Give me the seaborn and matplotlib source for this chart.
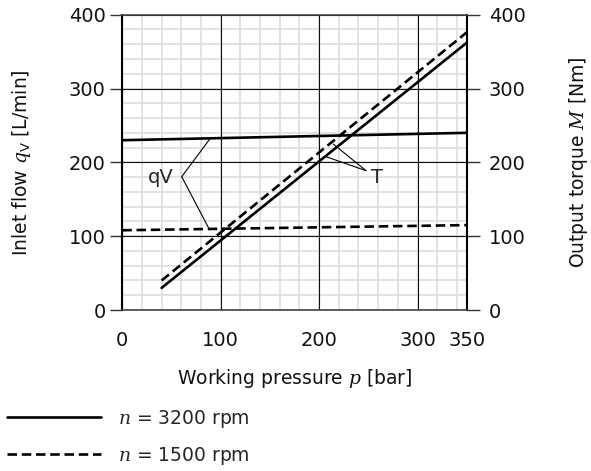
import numpy as np
import pandas as pd
import matplotlib
matplotlib.use('Agg')
import matplotlib.pyplot as plt
import seaborn as sns
from matplotlib.lines import Line2D
from matplotlib.ticker import MultipleLocator, FixedLocator, NullLocator

# ---- data ----
p_flow = [0, 350]
qv_3200 = [230, 240]
qv_1500 = [108, 115]
p_torque = [40, 350]
torque_3200 = [30, 362]
torque_1500 = [40, 376]
speeds = ['3200', '1500']
x_ticks = [0, 100, 200, 300, 350]
y_ticks = [0, 100, 200, 300, 400]
legend_labels = [r'$n$ = 3200 rpm', r'$n$ = 1500 rpm']

rows = []
for sp, q, t in [('3200', qv_3200, torque_3200), ('1500', qv_1500, torque_1500)]:
    for x, v in zip(p_flow, q):
        rows.append(dict(p=x, value=v, quantity='qV', speed=sp))
    for x, v in zip(p_torque, t):
        rows.append(dict(p=x, value=v, quantity='T', speed=sp))
df = pd.DataFrame(rows)
df['series'] = df['quantity'] + df['speed']

sns.set_style('white')
plt.rcParams['font.family'] = ['DejaVu Sans']
plt.rcParams['mathtext.fontset'] = 'dejavuserif'

LW = 1.9
DASH = (3.6, 1.8)
FS_TICK = 14
FS_LAB = 13.5
rect = [0.2069, 0.3418, 0.5828, 0.627]

fig = plt.figure(figsize=(5.91, 4.71), dpi=100)

# background axes: fine (minor) grid only
ax_bg = fig.add_axes(rect)
ax_bg.set_xlim(0, 350)
ax_bg.set_ylim(0, 400)
ax_bg.xaxis.set_major_locator(NullLocator())
ax_bg.yaxis.set_major_locator(NullLocator())
ax_bg.xaxis.set_minor_locator(MultipleLocator(20))
ax_bg.yaxis.set_minor_locator(MultipleLocator(20))
ax_bg.grid(which='minor', color='#dddddd', lw=1.2)
ax_bg.tick_params(which='both', length=0, labelbottom=False, labelleft=False)
for s in ax_bg.spines.values():
    s.set_visible(False)

# main axes
ax = fig.add_axes(rect)
ax.patch.set_visible(False)
sns.lineplot(data=df, x='p', y='value', units='series', estimator=None,
             style='speed', style_order=speeds,
             dashes={'3200': '', '1500': DASH},
             color='black', linewidth=LW, legend=False, ax=ax, zorder=3)

ax.set_xlim(0, 350)
ax.set_ylim(0, 400)
ax.xaxis.set_major_locator(FixedLocator(x_ticks))
ax.yaxis.set_major_locator(FixedLocator(y_ticks))
ax.set_axisbelow(True)
ax.grid(which='major', color='#111111', lw=0.8)
ax.tick_params(which='major', direction='out', length=9, width=1.0,
               color='#333333', labelsize=FS_TICK, labelcolor='#111111')
ax.tick_params(axis='y', pad=3)
ax.tick_params(axis='x', pad=6)

for s in ['left', 'right']:
    ax.spines[s].set_color('black')
    ax.spines[s].set_linewidth(1.5)
for s in ['top', 'bottom']:
    ax.spines[s].set_color('#444444')
    ax.spines[s].set_linewidth(1.2)

ax.set_xlabel(r'Working pressure $p$ [bar]', fontsize=FS_LAB, labelpad=12, color='#111111')
ax.set_ylabel(r'Inlet flow $q_\mathsf{V}$ [L/min]', fontsize=FS_LAB, labelpad=26, color='#111111')

ax2 = ax.twinx()
ax2.set_ylim(0, 400)
ax2.yaxis.set_major_locator(FixedLocator(y_ticks))
ax2.tick_params(which='major', direction='out', length=9, width=1.0,
                color='#333333', labelsize=FS_TICK, labelcolor='#111111', pad=7)
for s in ax2.spines.values():
    s.set_visible(False)
ax2.set_ylabel(r'Output torque $M$ [Nm]', fontsize=FS_LAB, labelpad=30, color='#111111')

# annotations
lk = dict(arrowstyle='-', lw=0.8, color='black', shrinkA=0, shrinkB=0)
qv_vertex = (60.4, 180.6)
ax.annotate('', xy=(89.6, 232.8), xytext=qv_vertex, arrowprops=lk)
ax.annotate('', xy=(87.9, 110.7), xytext=qv_vertex, arrowprops=lk)
ax.text(39.3, 180, 'qV', fontsize=14, ha='center', va='center')
t_vertex = (247.7, 188.7)
ax.annotate('', xy=(214.4, 224.8), xytext=t_vertex, arrowprops=lk)
ax.annotate('', xy=(207, 207.7), xytext=t_vertex, arrowprops=lk)
ax.text(258.5, 179.5, 'T', fontsize=14, ha='center', va='center')

handles = [Line2D([], [], color='black', lw=LW),
           Line2D([], [], color='black', lw=LW, ls=(0, DASH))]
fig.legend(handles=handles, labels=legend_labels, loc='upper left',
           bbox_to_anchor=(0.0118, 0.1346), frameon=False, borderpad=0,
           borderaxespad=0, handlelength=5.0, handletextpad=0.9,
           labelspacing=0.8, fontsize=FS_LAB)

fig.savefig('out.png', dpi=100)
